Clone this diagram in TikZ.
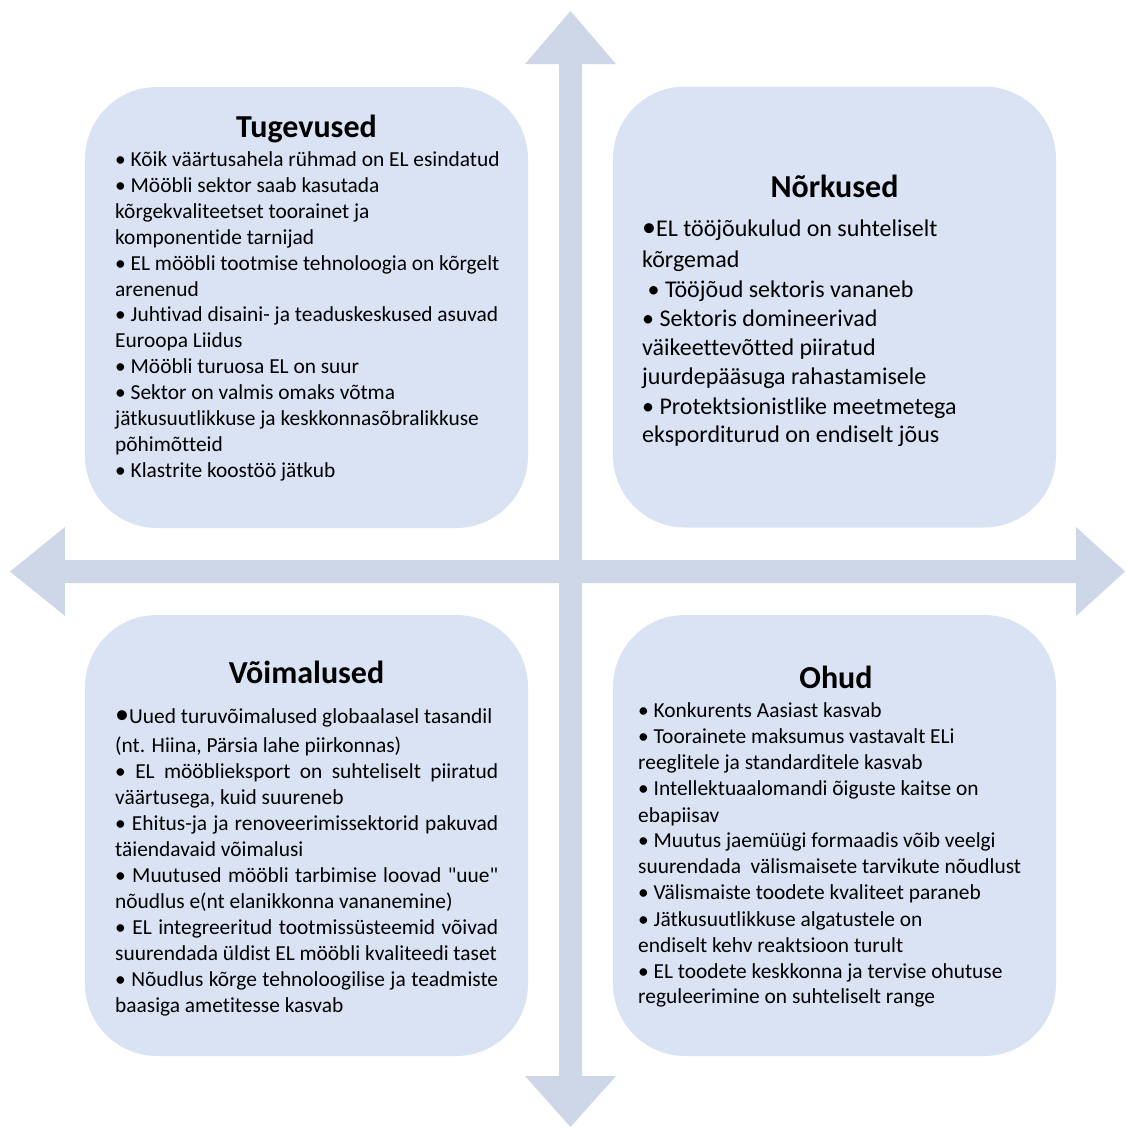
\documentclass[tikz,border=0pt]{standalone}
\usepackage{fontspec}
\setmainfont{Carlito}[Ligatures={TeXOff,NoCommon}]
\definecolor{boxfill}{HTML}{DAE3F3}
\definecolor{arrowfill}{HTML}{CED7E7}
\newcommand\bigbul{{\fontsize{28}{28}\selectfont •}}
\begin{document}
\begin{tikzpicture}[x=1pt,y=-1pt,
  quad/.style={fill=boxfill, draw=none, rounded corners=72pt, minimum width=443pt, minimum height=441pt, inner sep=0pt},
  ttl/.style={anchor=base, font=\bfseries\fontsize{32}{38}\selectfont, inner sep=0pt},
  ln/.style={anchor=base west, font=\fontsize{21.4}{26}\selectfont, inner sep=0pt},
  lnb/.style={anchor=base west, font=\fontsize{24}{28}\selectfont, inner sep=0pt},
  axis/.style={fill=arrowfill, draw=none}]
\useasboundingbox (0,0) rectangle (1126,1128);
% arrows
\fill[axis] (559,64) -- (525,64) -- (570.5,11) -- (616,64) -- (582,64) -- (582,1076) -- (616,1076) -- (570.5,1127) -- (525,1076) -- (559,1076) -- cycle;
\fill[axis] (65,560) -- (65,527) -- (10,571.5) -- (65,616) -- (65,583) -- (1076,583) -- (1076,616) -- (1125,571.5) -- (1076,527) -- (1076,560) -- cycle;
% boxes
\node[quad] (tl) at (306.5,307.5) {};
\node[quad] (tr) at (834.5,307) {};
\node[quad] (bl) at (306.5,835.5) {};
\node[quad] (br) at (834.5,835.5) {};
% Tugevused
\node[ttl] (t1) at (306.5,137) {Tugevused};
\node[ln] (a0) at (115,166) {• Kõik väärtusahela rühmad on EL esindatud};
\node[ln] (a1) at (115,192) {• Mööbli sektor saab kasutada};
\node[ln] (a2) at (115,218) {kõrgekvaliteetset toorainet ja};
\node[ln] (a3) at (115,244) {komponentide tarnijad};
\node[ln] (a4) at (115,270) {• EL mööbli tootmise tehnoloogia on kõrgelt};
\node[ln] (a5) at (115,296) {arenenud};
\node[ln] (a6) at (115,321) {• Juhtivad disaini- ja teaduskeskused asuvad};
\node[ln] (a7) at (115,347) {Euroopa Liidus};
\node[ln] (a8) at (115,373) {• Mööbli turuosa EL on suur};
\node[ln] (a9) at (115,399) {• Sektor on valmis omaks võtma};
\node[ln] (a10) at (115,425) {jätkusuutlikkuse ja keskkonnasõbralikkuse};
\node[ln] (a11) at (115,451) {põhimõtteid};
\node[ln] (a12) at (115,477) {• Klastrite koostöö jätkub};
% Nõrkused
\node[ttl] (t2) at (834.5,197) {Nõrkused};
\node[lnb] (b0) at (642,236) {\bigbul EL tööjõukulud on suhteliselt};
\node[lnb] (b1) at (642,267) {kõrgemad};
\node[lnb] (b2) at (642,297) {\ • Tööjõud sektoris vananeb};
\node[lnb] (b3) at (642,326) {• Sektoris domineerivad};
\node[lnb] (b4) at (642,355) {väikeettevõtted piiratud};
\node[lnb] (b5) at (642,384) {juurdepääsuga rahastamisele};
\node[lnb] (b6) at (642,414) {• Protektsionistlike meetmetega};
\node[lnb] (b7) at (642,442) {eksporditurud on endiselt jõus};
% Võimalused
\node[ttl] (t3) at (306.5,683) {Võimalused};
\node[ln] (c0) at (115,723) {\bigbul Uued turuvõimalused globaalasel tasandil};
\node[ln] (c1) at (115,752) {(nt. Hiina, Pärsia lahe piirkonnas)};
\node[ln] (c2) at (115,778) {\makebox[383pt][s]{• EL mööblieksport on suhteliselt piiratud}};
\node[ln] (c3) at (115,804) {väärtusega, kuid suureneb};
\node[ln] (c4) at (115,830) {\makebox[383pt][s]{• Ehitus-ja ja renoveerimissektorid pakuvad}};
\node[ln] (c5) at (115,856) {täiendavaid võimalusi};
\node[ln] (c6) at (115,882) {\makebox[383pt][s]{• Muutused mööbli tarbimise loovad "uue"}};
\node[ln] (c7) at (115,908) {nõudlus e(nt elanikkonna vananemine)};
\node[ln] (c8) at (115,934) {\makebox[383pt][s]{• EL integreeritud tootmissüsteemid võivad}};
\node[ln] (c9) at (115,960) {suurendada üldist EL mööbli kvaliteedi taset};
\node[ln] (c10) at (115,986) {\makebox[383pt][s]{• Nõudlus kõrge tehnoloogilise ja teadmiste}};
\node[ln] (c11) at (115,1012) {baasiga ametitesse kasvab};
% Ohud
\node[ttl] (t4) at (836,688) {Ohud};
\node[ln] (d0) at (638,717) {• Konkurents Aasiast kasvab};
\node[ln] (d1) at (638,743) {• Toorainete maksumus vastavalt ELi};
\node[ln] (d2) at (638,769) {reeglitele ja standarditele kasvab};
\node[ln] (d3) at (638,795) {• Intellektuaalomandi õiguste kaitse on};
\node[ln] (d4) at (638,822) {ebapiisav};
\node[ln] (d5) at (638,847) {• Muutus jaemüügi formaadis võib veelgi};
\node[ln] (d6) at (638,873) {suurendada\ \ välismaisete tarvikute nõudlust};
\node[ln] (d7) at (638,899) {• Välismaiste toodete kvaliteet paraneb};
\node[ln] (d8) at (638,926) {• Jätkusuutlikkuse algatustele on};
\node[ln] (d9) at (638,952) {endiselt kehv reaktsioon turult};
\node[ln] (d10) at (638,978) {• EL toodete keskkonna ja tervise ohutuse};
\node[ln] (d11) at (638,1003) {reguleerimine on suhteliselt range};
\end{tikzpicture}
\end{document}
